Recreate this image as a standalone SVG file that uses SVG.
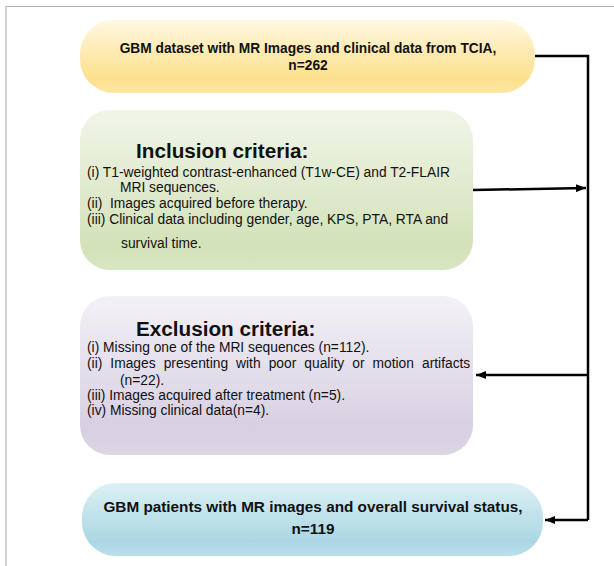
<svg xmlns="http://www.w3.org/2000/svg" width="614" height="566" viewBox="0 0 614 566">
<style>
.b{font-family:"Liberation Sans",Arial,sans-serif;font-weight:bold;fill:#111;}
.t{font-family:"Liberation Sans",Arial,sans-serif;font-size:13.8px;fill:#111;}
.h{font-family:"Liberation Sans",Arial,sans-serif;font-weight:bold;font-size:20.7px;fill:#111;}
.c{fill:none;stroke:#000;stroke-width:2.5;}
</style>
<defs>
<linearGradient id="gy" x1="0" y1="0" x2="0" y2="1">
<stop offset="0" stop-color="#fff8e2"/><stop offset="0.8" stop-color="#fde08c"/><stop offset="1" stop-color="#fde7a4"/>
</linearGradient>
<linearGradient id="gg" x1="0" y1="0" x2="0" y2="1">
<stop offset="0" stop-color="#f1f5e9"/><stop offset="0.85" stop-color="#d3e2b9"/><stop offset="1" stop-color="#d8e6c2"/>
</linearGradient>
<linearGradient id="gp" x1="0" y1="0" x2="0" y2="1">
<stop offset="0" stop-color="#f3f1f7"/><stop offset="0.85" stop-color="#d7cfe2"/><stop offset="1" stop-color="#ddd6e6"/>
</linearGradient>
<linearGradient id="gb" x1="0" y1="0" x2="0" y2="1">
<stop offset="0" stop-color="#dcf0f5"/><stop offset="0.8" stop-color="#abd7e4"/><stop offset="1" stop-color="#b9dfea"/>
</linearGradient>
<marker id="ar" markerWidth="10" markerHeight="8" refX="10" refY="4" orient="auto" markerUnits="userSpaceOnUse">
<path d="M0,0 L10,4 L0,8 Z" fill="#000"/>
</marker>
</defs>
<path d="M6,566 V6.5 H614" fill="none" stroke="#b5b5b5" stroke-width="1.2"/>
<g id="connectors">
<path class="c" d="M533,56 H588 V520"/>
<path class="c" d="M473,190 L586,188" marker-end="url(#ar)"/>
<path class="c" d="M588,375 H476" marker-end="url(#ar)"/>
<path class="c" d="M588,520 H545" marker-end="url(#ar)"/>
</g>
<g id="dataset">
<rect x="80" y="20" width="455" height="73" rx="34" ry="34" fill="url(#gy)"/>
<text class="b" font-size="13.75" x="308" y="53" text-anchor="middle">GBM dataset with MR Images and clinical data from TCIA,</text>
<text class="b" font-size="13.75" x="308" y="70" text-anchor="middle">n=262</text>
</g>
<g id="inclusion">
<rect x="80" y="110" width="393" height="160" rx="30" ry="30" fill="url(#gg)"/>
<text class="h" x="136" y="158">Inclusion criteria:</text>
<text class="t" x="87" y="177">(i) T1-weighted contrast-enhanced (T1w-CE) and T2-FLAIR</text>
<text class="t" x="120" y="192">MRI sequences.</text>
<text class="t" x="87" y="208" xml:space="preserve">(ii)  Images acquired before therapy.</text>
<text class="t" x="87" y="224">(iii) Clinical data including gender, age, KPS, PTA, RTA and</text>
<text class="t" x="121" y="248">survival time.</text>
</g>
<g id="exclusion">
<rect x="80" y="296" width="393" height="159" rx="30" ry="30" fill="url(#gp)"/>
<text class="h" x="136" y="336">Exclusion criteria:</text>
<text class="t" x="87" y="352">(i) Missing one of the MRI sequences (n=112).</text>
<text class="t" x="87" y="368" word-spacing="4.2">(ii) Images presenting with poor quality or motion artifacts</text>
<text class="t" x="120" y="385">(n=22).</text>
<text class="t" x="87" y="400">(iii) Images acquired after treatment (n=5).</text>
<text class="t" x="87" y="415">(iv) Missing clinical data(n=4).</text>
</g>
<g id="result">
<rect x="82" y="483" width="461" height="73" rx="34" ry="34" fill="url(#gb)"/>
<text class="b" font-size="15.3" x="313" y="512" text-anchor="middle">GBM patients with MR images and overall survival status,</text>
<text class="b" font-size="15.3" x="313" y="534" text-anchor="middle">n=119</text>
</g>
</svg>
